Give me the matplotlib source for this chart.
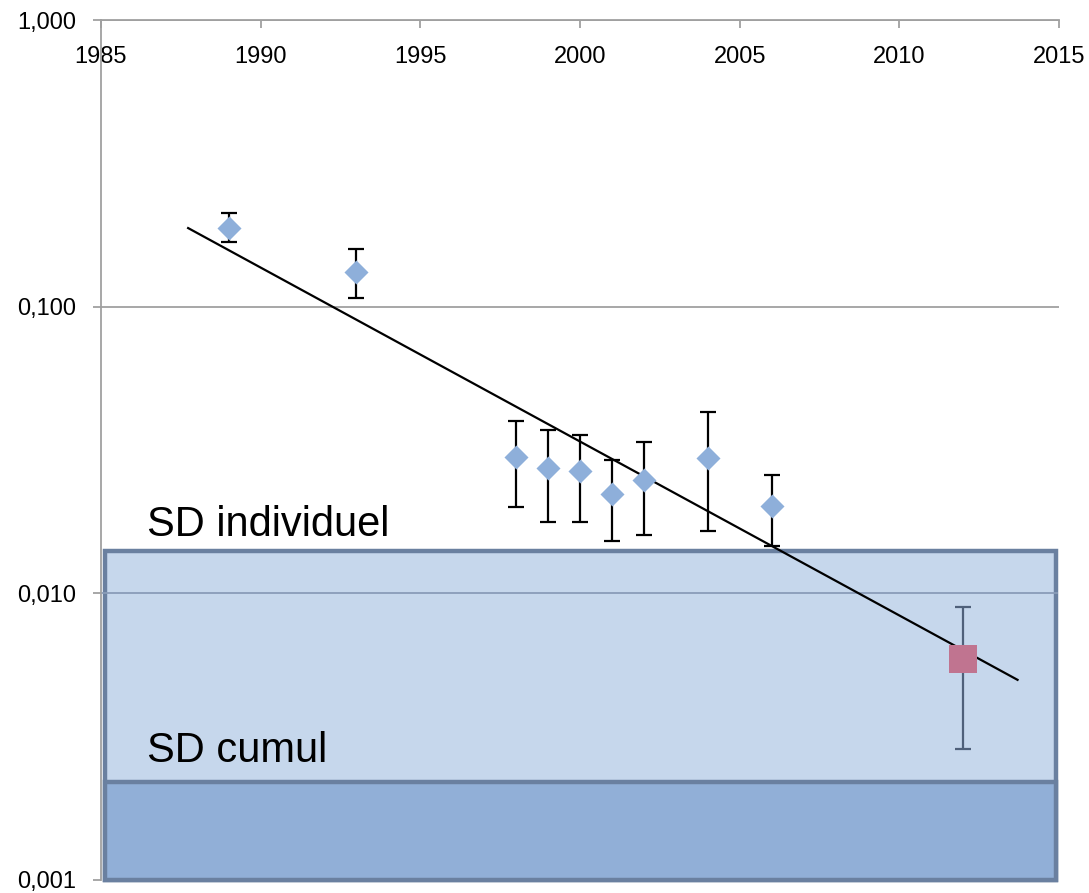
import numpy as np
import matplotlib
matplotlib.use("Agg")
import matplotlib.pyplot as plt
from matplotlib.patches import Rectangle
from matplotlib.ticker import FixedLocator, FuncFormatter
from matplotlib import font_manager

# ---- data ----
years = [1989, 1993, 1998, 1999, 2000, 2001, 2002, 2004, 2006]
values = [0.188, 0.132, 0.0299, 0.0274, 0.0267, 0.0222, 0.0249, 0.0297, 0.0202]
err_high = [0.212, 0.159, 0.0399, 0.0371, 0.0357, 0.0292, 0.0337, 0.0430, 0.0259]
err_low = [0.168, 0.107, 0.0200, 0.0177, 0.0177, 0.0152, 0.0160, 0.0165, 0.0146]

new_year = [2012]
new_value = [0.0059]
new_high = [0.00897]
new_low = [0.00286]

trend_years = [1987.73, 2013.7]
trend_values = [0.188, 0.00499]

sd_individuel = 0.01406
sd_cumul = 0.0022

x_ticks = [1985, 1990, 1995, 2000, 2005, 2010, 2015]
y_ticks = [0.001, 0.01, 0.1, 1.0]

# tick font: narrow sans if available
try:
    font_manager.findfont("Liberation Sans Narrow", fallback_to_default=False)
    tick_family = "Liberation Sans Narrow"
    tick_size = 20
except Exception:
    tick_family = "Liberation Sans"
    tick_size = 17

# ---- figure ----
fig = plt.figure(figsize=(10.89, 8.93), dpi=100)
ax = fig.add_axes([0.0927, 0.0146, 0.8798, 0.9630])
ax.set_yscale("log")
ax.set_xlim(1985, 2015)
ax.set_ylim(0.001, 1.0)

grid_c = "#A0A0A0"
for v in y_ticks[2:]:
    ax.axhline(v, color=grid_c, lw=1.3, zorder=1)

# SD boxes
border = "#6A80A0"
ax.add_patch(Rectangle((1985.12, 0.001), 29.8, sd_individuel - 0.001,
                       facecolor="#C6D7EC", edgecolor=border, lw=3.2,
                       zorder=0.5, clip_on=False))
ax.add_patch(Rectangle((1985.12, 0.001), 29.8, sd_cumul - 0.001,
                       facecolor="#91AFD7", edgecolor=border, lw=3.2,
                       zorder=0.6, clip_on=False))
ax.axhline(0.01, color="#8A9CB8", lw=1.3, zorder=0.7, xmax=0.998)

ax.text(1986.44, 0.01582, "SD individuel", fontsize=30,
        family="Liberation Sans", va="baseline", ha="left", zorder=5)
ax.text(1986.44, 0.00258, "SD cumul", fontsize=30,
        family="Liberation Sans", va="baseline", ha="left", zorder=5)

# trend line
ax.plot(trend_years, trend_values, color="black", lw=1.6, zorder=3)

# data points
y = np.array(values)
yerr = [y - np.array(err_low), np.array(err_high) - y]
ax.errorbar(years, values, yerr=yerr, fmt="none", ecolor="black",
            elinewidth=1.6, capsize=6, capthick=1.6, zorder=2)
ax.scatter(years, values, marker="D", s=150, color="#8EAFDA", zorder=4,
           linewidths=0)

yn = np.array(new_value)
yerrn = [yn - np.array(new_low), np.array(new_high) - yn]
ax.errorbar(new_year, new_value, yerr=yerrn, fmt="none", ecolor="#4F607A",
            elinewidth=1.6, capsize=6, capthick=1.6, zorder=2)
ax.scatter(new_year, new_value, marker="s", s=380, color="#C07490",
           zorder=4, linewidths=0)

# axes styling
for s in ["right", "bottom"]:
    ax.spines[s].set_visible(False)
ax.spines["left"].set_color(grid_c)
ax.spines["top"].set_color(grid_c)
ax.spines["left"].set_linewidth(1.3)
ax.spines["top"].set_linewidth(1.3)

ax.xaxis.set_major_locator(FixedLocator(x_ticks))
ax.tick_params(axis="x", top=True, bottom=False, labeltop=True,
               labelbottom=False, direction="in", length=6, width=1.3,
               color=grid_c, pad=-34.5, labelsize=tick_size)
ax.yaxis.set_major_locator(FixedLocator(y_ticks))
ax.yaxis.set_minor_locator(FixedLocator([]))
ax.yaxis.set_major_formatter(FuncFormatter(lambda v, p: f"{v:.3f}".replace(".", ",")))
ax.tick_params(axis="y", direction="out", length=5.8, width=1.3, color=grid_c,
               labelsize=tick_size, pad=12)
ax.tick_params(axis="y", which="minor", length=0)
for lab in ax.get_xticklabels() + ax.get_yticklabels():
    lab.set_family(tick_family)

fig.savefig("out.png", dpi=100)
